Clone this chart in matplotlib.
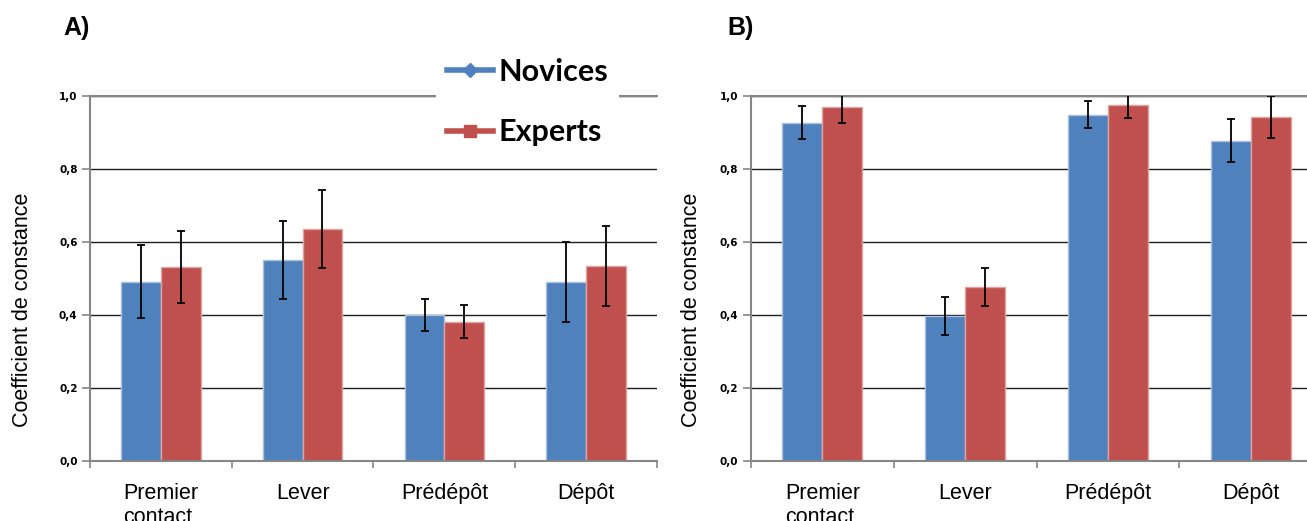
import numpy as np
import matplotlib
matplotlib.use("Agg")
import matplotlib.pyplot as plt
from matplotlib.lines import Line2D
from matplotlib.ticker import FixedLocator, FuncFormatter

# Consistency coefficients per movement phase (mean and error) for two groups
categories = ["Premier\ncontact", "Lever", "Prédépôt", "Dépôt"]
series_names = ["Novices", "Experts"]

novices_a = [0.491, 0.551, 0.400, 0.491]
novices_a_err = [0.100, 0.107, 0.045, 0.109]
experts_a = [0.532, 0.636, 0.382, 0.535]
experts_a_err = [0.098, 0.107, 0.045, 0.110]

novices_b = [0.927, 0.398, 0.949, 0.878]
novices_b_err = [0.045, 0.052, 0.036, 0.058]
experts_b = [0.970, 0.476, 0.976, 0.942]
experts_b_err = [0.044, 0.052, 0.035, 0.057]

y_ticks = [0.0, 0.2, 0.4, 0.6, 0.8, 1.0]

BLUE = "#4F81BD"
RED = "#C0504D"
BLUE_EDGE = "#A9C1DE"
RED_EDGE = "#DFA3A1"
AXIS_GRAY = "#868686"
GRID = "#1e1e1e"

W, H = 1307, 521
fig = plt.figure(figsize=(W / 100, H / 100), dpi=100)


def px_axes(left, right, top, bottom):
    return fig.add_axes([left / W, (H - bottom) / H, (right - left) / W, (bottom - top) / H])


def draw_panel(ax, nov, nov_err, exp, exp_err, label_x):
    x = np.arange(len(categories))
    bw = 0.28
    ax.bar(x - bw / 2, nov, bw, color=BLUE, edgecolor=BLUE_EDGE, linewidth=1, zorder=2)
    ax.bar(x + bw / 2, exp, bw, color=RED, edgecolor=RED_EDGE, linewidth=1, zorder=2)
    ax.errorbar(x - bw / 2, nov, yerr=nov_err, fmt="none", ecolor="black",
                elinewidth=1.3, capsize=3.2, capthick=1.3, zorder=3)
    ax.errorbar(x + bw / 2, exp, yerr=exp_err, fmt="none", ecolor="black",
                elinewidth=1.3, capsize=3.2, capthick=1.3, zorder=3)

    ax.set_xlim(-0.5, len(categories) - 0.5)
    ax.set_ylim(0, 1.0)

    # y axis
    ax.yaxis.set_major_locator(FixedLocator(y_ticks))
    ax.yaxis.set_major_formatter(FuncFormatter(lambda v, p: f"{v:.1f}".replace(".", ",")))
    ax.tick_params(axis="y", direction="out", length=6, width=1.2, color=AXIS_GRAY,
                   pad=3, labelsize=7.5)
    for t in ax.get_yticklabels():
        t.set_fontweight("bold")
        t.set_family("DejaVu Sans")
    ax.yaxis.grid(True, color=GRID, linewidth=1.0)
    ax.set_axisbelow(True)

    # x axis: tick marks at category boundaries, labels at centres
    ax.xaxis.set_major_locator(FixedLocator(np.arange(len(categories) + 1) - 0.5))
    ax.xaxis.set_major_formatter(FuncFormatter(lambda v, p: ""))
    ax.xaxis.set_minor_locator(FixedLocator(x))
    ax.set_xticklabels(categories, minor=True)
    ax.tick_params(axis="x", which="major", direction="out", length=5, width=1.2,
                   color=AXIS_GRAY)
    ax.tick_params(axis="x", which="minor", length=0, pad=16, labelsize=15.5)
    for t in ax.xaxis.get_minorticklabels():
        t.set_family("Liberation Sans")
        t.set_multialignment("left")

    ax.spines["right"].set_visible(False)
    for side in ("left", "bottom", "top"):
        ax.spines[side].set_color(AXIS_GRAY)
        ax.spines[side].set_linewidth(1.5)

    ax.set_ylabel("Coefficient de constance", fontsize=15.5, family="Liberation Sans")
    ax.yaxis.set_label_coords(label_x, 0.414)


ax_a = px_axes(90, 657, 96, 461)
ax_b = px_axes(751, 1322, 96, 461)

draw_panel(ax_a, novices_a, novices_a_err, experts_a, experts_a_err, -0.1005)
draw_panel(ax_b, novices_b, novices_b_err, experts_b, experts_b_err, -0.0858)

fig.text(63 / W, (H - 35) / H, "A)", fontsize=18, fontweight="bold",
         family="Liberation Sans", va="baseline", ha="left")
fig.text(727 / W, (H - 35) / H, "B)", fontsize=18, fontweight="bold",
         family="Liberation Sans", va="baseline", ha="left")

handles = [
    Line2D([0], [0], color=BLUE, lw=4, marker="D", markersize=7),
    Line2D([0], [0], color=RED, lw=4, marker="s", markersize=9),
]
leg = ax_a.legend(handles, series_names, loc="center", bbox_to_anchor=(0.772, 0.983),
                  frameon=True, fancybox=False, facecolor="white", edgecolor="none",
                  framealpha=1.0, handlelength=1.5, handletextpad=0.2,
                  labelspacing=1.05, borderpad=0.35,
                  prop={"family": "Lato", "weight": "bold", "size": 22})
leg.set_zorder(10)

fig.savefig("out.png", dpi=100)
